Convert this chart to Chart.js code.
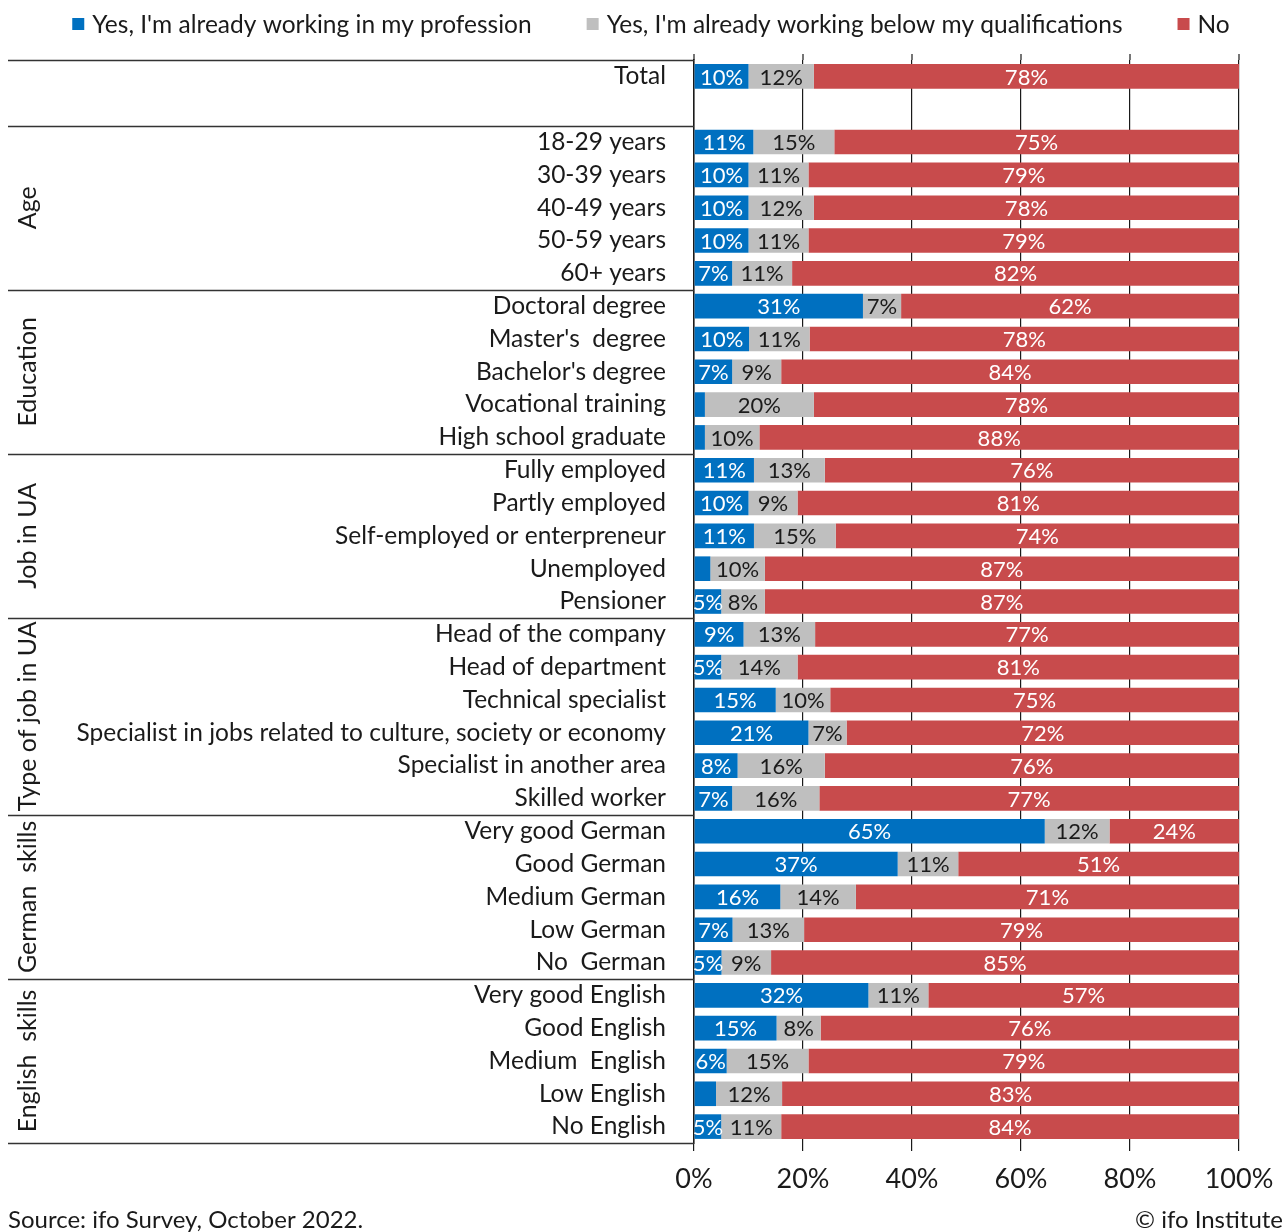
<!DOCTYPE html>
<html>
<head>
<meta charset="utf-8">
<script src="https://cdn.jsdelivr.net/npm/chart.js@4.4.1/dist/chart.umd.min.js"></script>
<style>
html, body { margin: 0; padding: 0; background: #fff; }
</style>
</head>
<body>
<canvas id="barChart" width="1286" height="1232"></canvas>
<script>
var rowLabels = [
    'Total', '',
    '18-29 years', '30-39 years', '40-49 years', '50-59 years', '60+ years',
    'Doctoral degree', "Master's  degree", "Bachelor's degree", 'Vocational training', 'High school graduate',
    'Fully employed', 'Partly employed', 'Self-employed or enterpreneur', 'Unemployed', 'Pensioner',
    'Head of the company', 'Head of department', 'Technical specialist',
    'Specialist in jobs related to culture, society or economy', 'Specialist in another area', 'Skilled worker',
    'Very good German', 'Good German', 'Medium German', 'Low German', 'No  German',
    'Very good English', 'Good English', 'Medium  English', 'Low English', 'No English'
];
var inProfession = [10, null, 11, 10, 10, 10, 7, 31, 10, 7, 2, 2, 11, 10, 11, 3, 5, 9, 5, 15, 21, 8, 7, 65, 37, 16, 7, 5, 32, 15, 6, 4, 5];
var belowQualification = [12, null, 15, 11, 12, 11, 11, 7, 11, 9, 20, 10, 13, 9, 15, 10, 8, 13, 14, 10, 7, 16, 16, 12, 11, 14, 13, 9, 11, 8, 15, 12, 11];
var notWorking = [78, null, 75, 79, 78, 79, 82, 62, 78, 84, 78, 88, 76, 81, 74, 87, 87, 77, 81, 75, 72, 76, 77, 24, 51, 71, 79, 85, 57, 76, 79, 83, 84];
var seriesNames = ["Yes, I'm already working in my profession", "Yes, I'm already working below my qualifications", 'No'];
var seriesColors = ['#0070c0', '#bfbfbf', '#c84b4c'];
var groupNames = ['Age', 'Education', 'Job in UA', 'Type of job in UA', 'German  skills', 'English  skills'];
var groupSizes = [5, 5, 5, 6, 5, 5];
var xTicks = [0, 20, 40, 60, 80, 100];

var fontName = 'Lato';
var textColor = '#1a1a1a';
var rawSeries = [inProfession, belowQualification, notWorking];

// each row is drawn as a share of its own total, so every bar reaches 100%
function shares(arr) {
    return arr.map(function (v, i) {
        if (v === null) return null;
        var sum = inProfession[i] + belowQualification[i] + notWorking[i];
        return v / sum * 100;
    });
}

var valueLabels = {
    id: 'valueLabels',
    afterDatasetsDraw: function (chart) {
        var ctx = chart.ctx;
        ctx.save();
        ctx.font = '22px ' + fontName;
        ctx.textAlign = 'center';
        ctx.textBaseline = 'middle';
        chart.data.datasets.forEach(function (ds, d) {
            chart.getDatasetMeta(d).data.forEach(function (bar, i) {
                var v = rawSeries[d][i];
                if (v === null || v < 5) return;
                ctx.fillStyle = d === 1 ? textColor : '#ffffff';
                ctx.fillText(v + '%', (bar.x + bar.base) / 2, bar.y + 1);
            });
        });
        ctx.restore();
    }
};

var frame = {
    id: 'frame',
    afterDraw: function (chart) {
        var ctx = chart.ctx;
        var area = chart.chartArea;
        var y = chart.scales.y;
        var x = chart.scales.x;
        ctx.save();

        // horizontal rules of the left table
        var cuts = [1];
        var idx = 1;
        groupSizes.forEach(function (n) { idx += n; cuts.push(idx); });
        var lines = [area.top];
        cuts.forEach(function (c) {
            if (c >= rowLabels.length - 1) lines.push(area.bottom);
            else lines.push((y.getPixelForValue(c) + y.getPixelForValue(c + 1)) / 2);
        });
        ctx.strokeStyle = '#333333';
        ctx.lineWidth = 1.5;
        lines.forEach(function (ly) {
            ctx.beginPath();
            ctx.moveTo(8, Math.round(ly) + 0.5);
            ctx.lineTo(area.left, Math.round(ly) + 0.5);
            ctx.stroke();
        });

        // tick marks above the plot
        ctx.strokeStyle = '#1a1a1a';
        ctx.lineWidth = 1.2;
        xTicks.forEach(function (t) {
            var px = x.getPixelForValue(t);
            ctx.beginPath();
            ctx.moveTo(px, area.top - 6);
            ctx.lineTo(px, area.top);
            ctx.stroke();
        });

        // rotated group names
        ctx.fillStyle = textColor;
        ctx.font = '25px ' + fontName;
        ctx.textAlign = 'center';
        ctx.textBaseline = 'middle';
        var start = 2;
        groupNames.forEach(function (name, g) {
            var first = y.getPixelForValue(start);
            var last = y.getPixelForValue(start + groupSizes[g] - 1);
            ctx.save();
            ctx.translate(28, (first + last) / 2);
            ctx.rotate(-Math.PI / 2);
            ctx.fillText(name, 0, 0);
            ctx.restore();
            start += groupSizes[g];
        });

        // legend
        ctx.font = '24.5px ' + fontName;
        ctx.textAlign = 'left';
        var widths = seriesNames.map(function (s) { return 20 + ctx.measureText(s).width; });
        var total = widths.reduce(function (a, b) { return a + b; }, 0) + 55 * (widths.length - 1);
        var lx = 651 - total / 2;
        seriesNames.forEach(function (s, i) {
            ctx.fillStyle = seriesColors[i];
            ctx.fillRect(lx, 18, 12, 12);
            ctx.fillStyle = textColor;
            ctx.fillText(s, lx + 20, 25);
            lx += widths[i] + 55;
        });

        // source and copyright
        ctx.font = '24px ' + fontName;
        ctx.textBaseline = 'middle';
        ctx.fillText('Source: ifo Survey, October 2022.', 8, 1220);
        ctx.textAlign = 'right';
        ctx.fillText('\u00a9 ifo Institute', 1283, 1220);
        ctx.restore();
    }
};

var barChart = new Chart(document.getElementById('barChart').getContext('2d'), {
    type: 'bar',
    data: {
        labels: rowLabels,
        datasets: rawSeries.map(function (arr, d) {
            return {
                label: seriesNames[d],
                data: shares(arr),
                backgroundColor: seriesColors[d],
                borderWidth: 0,
                barPercentage: 0.75,
                categoryPercentage: 1
            };
        })
    },
    options: {
        indexAxis: 'y',
        responsive: false,
        animation: false,
        devicePixelRatio: 1,
        layout: { padding: { top: 60, right: 47, bottom: 40, left: 0 } },
        plugins: {
            legend: { display: false },
            tooltip: { enabled: false }
        },
        scales: {
            x: {
                stacked: true,
                min: 0,
                max: 100,
                afterFit: function (scale) { scale.height = 49; },
                afterBuildTicks: function (scale) {
                    scale.ticks = xTicks.map(function (t) { return { value: t }; });
                },
                ticks: {
                    callback: function (v) { return v + '%'; },
                    font: { family: fontName, size: 27 },
                    color: textColor,
                    padding: 12,
                    maxRotation: 0
                },
                grid: { color: '#1a1a1a', lineWidth: 1.2, tickLength: 8 },
                border: { display: false }
            },
            y: {
                stacked: true,
                afterFit: function (scale) { scale.width = 694; },
                ticks: {
                    autoSkip: false,
                    font: { family: fontName, size: 24.5 },
                    color: textColor,
                    padding: 20
                },
                grid: { display: false },
                border: { display: true, color: '#1a1a1a', width: 1.5 }
            }
        }
    },
    plugins: [valueLabels, frame]
});
</script>
</body>
</html>
